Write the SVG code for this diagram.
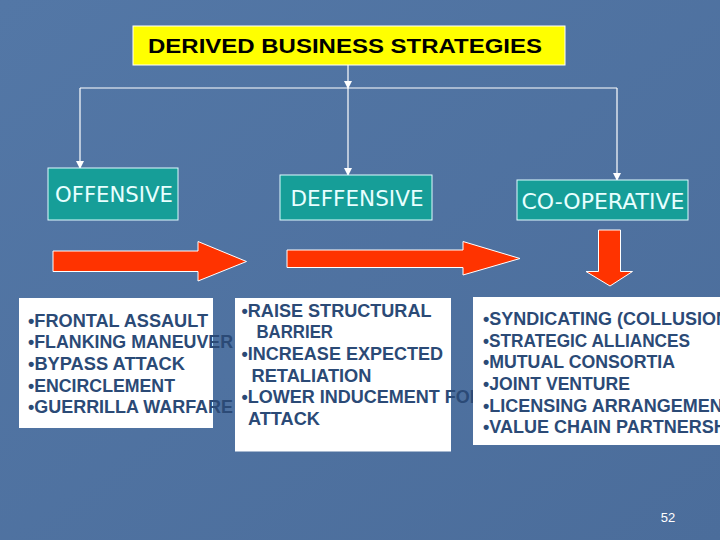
<svg xmlns="http://www.w3.org/2000/svg" width="720" height="540" viewBox="0 0 720 540">
<defs>
<linearGradient id="bg" x1="0" y1="0" x2="1" y2="1">
<stop offset="0" stop-color="#5377a6"/>
<stop offset="1" stop-color="#4b6d9b"/>
</linearGradient>
<marker id="ah" viewBox="0 0 8 8" refX="7" refY="4" markerWidth="8" markerHeight="8" markerUnits="userSpaceOnUse" orient="auto">
<path d="M0,0 L8,4 L0,8 z" fill="#ffffff"/>
</marker>
<style>
.conn{stroke:#ffffff;stroke-width:1.2;fill:none}
.teal{fill:#169e98;stroke:#dffcff;stroke-width:1}
.tl{font-family:"DejaVu Sans",Tahoma,sans-serif;font-size:21.5px;fill:#e8ffff;text-anchor:middle}
.wbox{fill:#ffffff}
.lst{font-family:"Liberation Sans",Arial,sans-serif;font-size:18px;font-weight:bold;fill:#2b4a76}
.red{fill:#ff3300;stroke:#ffffff;stroke-width:1}
</style>
</defs>
<rect width="720" height="540" fill="url(#bg)"/>

<g id="title">
<rect x="133" y="26" width="432" height="39" fill="#ffff00" stroke="#ffffff" stroke-width="1"/>
<text x="148" y="53" font-family="Liberation Sans,Arial,sans-serif" font-size="20" font-weight="bold" fill="#000000" textLength="394" lengthAdjust="spacingAndGlyphs">DERIVED BUSINESS STRATEGIES</text>
</g>

<g id="connectors">
<line class="conn" x1="348" y1="65" x2="348" y2="88" marker-end="url(#ah)"/>
<line class="conn" x1="80" y1="88" x2="617" y2="88"/>
<line class="conn" x1="80" y1="88" x2="80" y2="168" marker-end="url(#ah)"/>
<line class="conn" x1="348" y1="88" x2="348" y2="175" marker-end="url(#ah)"/>
<line class="conn" x1="617" y1="88" x2="617" y2="180" marker-end="url(#ah)"/>
</g>

<g id="offensive">
<rect class="teal" x="48" y="168" width="130" height="52"/>
<text class="tl" x="114" y="202" textLength="118" lengthAdjust="spacingAndGlyphs">OFFENSIVE</text>
</g>
<g id="deffensive">
<rect class="teal" x="280" y="175" width="152" height="45"/>
<text class="tl" x="357" y="206" textLength="133" lengthAdjust="spacingAndGlyphs">DEFFENSIVE</text>
</g>
<g id="cooperative">
<rect class="teal" x="517" y="180" width="171" height="40"/>
<text class="tl" x="603" y="209" textLength="163" lengthAdjust="spacingAndGlyphs">CO-OPERATIVE</text>
</g>

<g id="arrow1">
<path class="red" d="M53,251 L198,251 L198,241.5 L246.5,261.5 L198,281 L198,271.5 L53,271.5 z"/>
</g>
<g id="arrow2">
<path class="red" d="M287,250 L463,250 L463,241.5 L520,258.5 L463,275 L463,267.5 L287,267.5 z"/>
</g>
<g id="arrow3">
<path class="red" d="M598.5,230 L620.5,230 L620.5,271.5 L632.5,271.5 L610,286 L586,271.5 L598.5,271.5 z"/>
</g>

<g id="offensive-list">
<rect class="wbox" x="19" y="298" width="194" height="130"/>
<text class="lst" x="28" y="327" textLength="180" lengthAdjust="spacingAndGlyphs">•FRONTAL ASSAULT</text>
<text class="lst" x="28" y="348" textLength="205" lengthAdjust="spacingAndGlyphs">•FLANKING MANEUVER</text>
<text class="lst" x="28" y="370" textLength="157" lengthAdjust="spacingAndGlyphs">•BYPASS ATTACK</text>
<text class="lst" x="28" y="391.5" textLength="147" lengthAdjust="spacingAndGlyphs">•ENCIRCLEMENT</text>
<text class="lst" x="28" y="413" textLength="205" lengthAdjust="spacingAndGlyphs">•GUERRILLA WARFARE</text>
</g>

<g id="defensive-list">
<rect class="wbox" x="235" y="298" width="216" height="153.5"/>
<text class="lst" x="241.5" y="317" textLength="190" lengthAdjust="spacingAndGlyphs">•RAISE STRUCTURAL</text>
<text class="lst" x="256.5" y="338" textLength="76.5" lengthAdjust="spacingAndGlyphs">BARRIER</text>
<text class="lst" x="241.5" y="360" textLength="201.5" lengthAdjust="spacingAndGlyphs">•INCREASE EXPECTED</text>
<text class="lst" x="251.5" y="381.5" textLength="120" lengthAdjust="spacingAndGlyphs">RETALIATION</text>
<text class="lst" x="241.5" y="403">•LOWER INDUCEMENT FOR</text>
<text class="lst" x="248" y="424.5" textLength="72" lengthAdjust="spacingAndGlyphs">ATTACK</text>
</g>

<g id="cooperative-list">
<rect class="wbox" x="473" y="297" width="251" height="148"/>
<text class="lst" x="483" y="325">•SYNDICATING (COLLUSION)</text>
<text class="lst" x="483" y="346.5" textLength="207" lengthAdjust="spacingAndGlyphs">•STRATEGIC ALLIANCES</text>
<text class="lst" x="483" y="368" textLength="192" lengthAdjust="spacingAndGlyphs">•MUTUAL CONSORTIA</text>
<text class="lst" x="483" y="390" textLength="147" lengthAdjust="spacingAndGlyphs">•JOINT VENTURE</text>
<text class="lst" x="483" y="411.5">•LICENSING ARRANGEMENTS</text>
<text class="lst" x="483" y="433">•VALUE CHAIN PARTNERSHIP</text>
</g>

<text x="668" y="522" font-family="Liberation Sans,Arial,sans-serif" font-size="13" fill="#ffffff" text-anchor="middle">52</text>
</svg>
